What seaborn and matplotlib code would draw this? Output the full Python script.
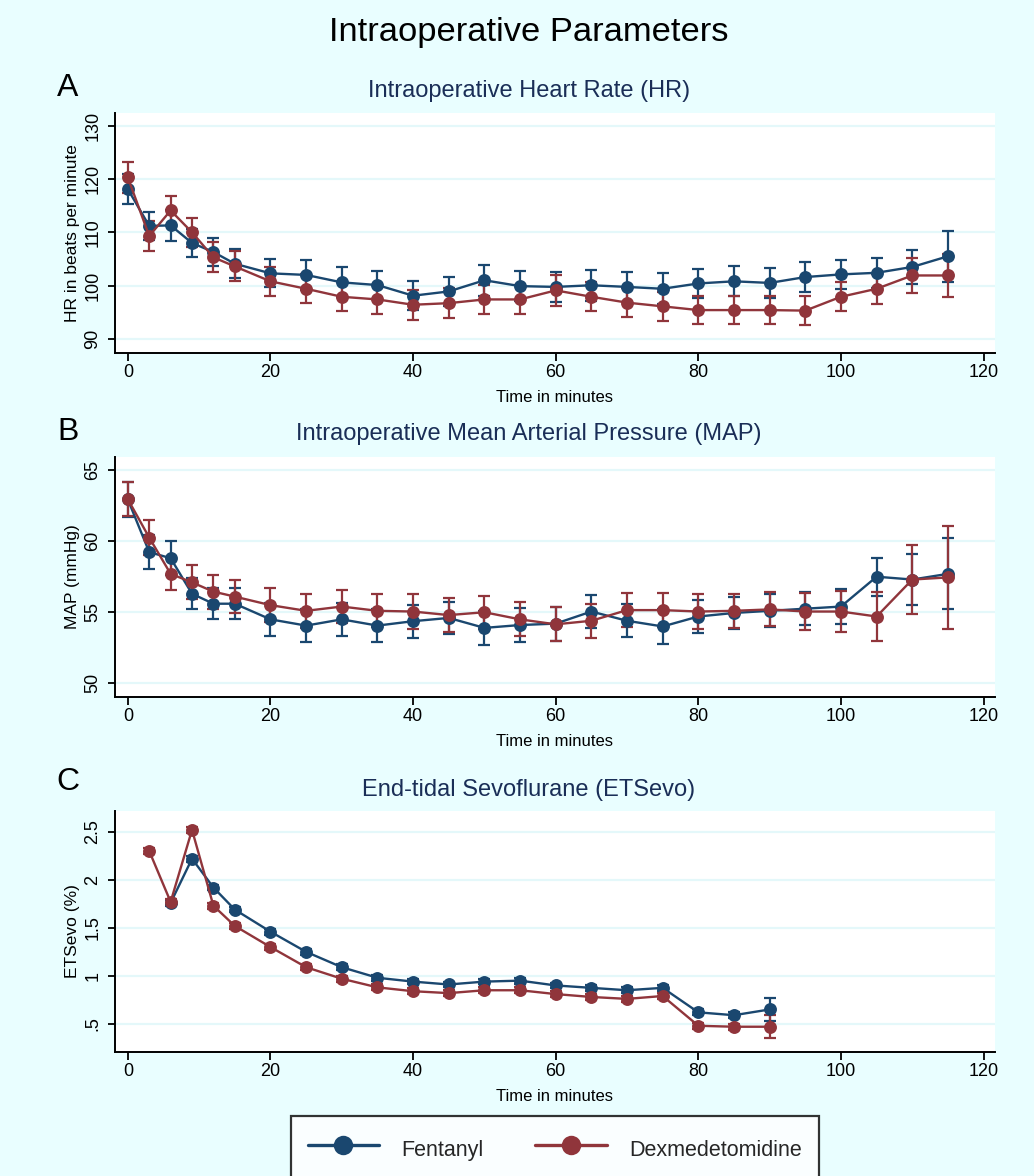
import numpy as np
import pandas as pd
import matplotlib
matplotlib.use("Agg")
import matplotlib.pyplot as plt
import seaborn as sns
from matplotlib.lines import Line2D

# ---------------- data ----------------
time = [0, 3, 6, 9, 12, 15, 20, 25, 30, 35, 40, 45, 50, 55, 60, 65, 70, 75, 80, 85, 90, 95, 100, 105, 110, 115]

hr_fen = [118.1, 111.2, 111.3, 108.0, 106.3, 104.1, 102.3, 102.0, 100.6, 100.1, 98.1, 98.9, 101.0, 99.9,
          99.75, 100.06, 99.75, 99.4, 100.4, 100.8, 100.5, 101.6, 102.1, 102.4, 103.5, 105.5]
hr_fen_err = [2.8, 2.7, 2.9, 2.7, 2.7, 2.7, 2.6, 2.75, 2.8, 2.7, 2.7, 2.7, 2.9, 2.8,
              2.75, 2.9, 2.75, 2.9, 2.75, 2.8, 2.8, 2.75, 2.75, 2.8, 3.2, 4.8]
hr_dex = [120.3, 109.3, 114.1, 110.0, 105.3, 103.6, 100.8, 99.4, 97.9, 97.4, 96.4, 96.7, 97.4, 97.4,
          99.1, 97.9, 96.8, 96.1, 95.4, 95.4, 95.4, 95.3, 97.9, 99.4, 101.9, 101.9]
hr_dex_err = [2.9, 2.8, 2.7, 2.75, 2.8, 2.8, 2.75, 2.75, 2.7, 2.8, 2.8, 2.8, 2.65, 2.8,
              2.9, 2.75, 2.75, 2.7, 2.7, 2.7, 2.7, 2.7, 2.75, 2.8, 3.3, 4.0]

map_fen = [62.93, 59.23, 58.8, 56.3, 55.6, 55.6, 54.5, 54.06, 54.5, 54.06, 54.37, 54.6, 53.9, 54.1,
           54.2, 55.05, 54.4, 54.0, 54.7, 54.95, 55.1, 55.25, 55.4, 57.5, 57.3, 57.7]
map_fen_err = [1.2, 1.17, 1.2, 1.1, 1.1, 1.1, 1.15, 1.15, 1.15, 1.15, 1.15, 1.15, 1.2, 1.2,
               1.2, 1.15, 1.15, 1.2, 1.15, 1.15, 1.15, 1.15, 1.2, 1.35, 1.8, 2.5]
map_dex = [62.95, 60.25, 57.7, 57.1, 56.45, 56.1, 55.5, 55.1, 55.4, 55.1, 55.05, 54.8, 55.0, 54.5,
           54.15, 54.4, 55.15, 55.15, 55.05, 55.1, 55.2, 55.05, 55.05, 54.7, 57.3, 57.45]
map_dex_err = [1.2, 1.25, 1.15, 1.2, 1.2, 1.15, 1.2, 1.2, 1.15, 1.15, 1.2, 1.2, 1.15, 1.2,
               1.2, 1.2, 1.2, 1.2, 1.2, 1.2, 1.2, 1.3, 1.45, 1.7, 2.4, 3.6]

et_time = [3, 6, 9, 12, 15, 20, 25, 30, 35, 40, 45, 50, 55, 60, 65, 70, 75, 80, 85, 90]
et_fen = [np.nan, 1.76, 2.22, 1.92, 1.69, 1.46, 1.25, 1.09, 0.98, 0.94, 0.91, 0.94, 0.95, 0.90,
          0.875, 0.85, 0.875, 0.62, 0.59, 0.65]
et_fen_err = [np.nan, 0.03, 0.03, 0.03, 0.03, 0.03, 0.03, 0.03, 0.03, 0.03, 0.03, 0.03, 0.03, 0.03,
              0.03, 0.03, 0.03, 0.03, 0.03, 0.12]
et_dex = [2.30, 1.77, 2.52, 1.73, 1.52, 1.30, 1.09, 0.97, 0.88, 0.84, 0.82, 0.85, 0.85, 0.81,
          0.78, 0.76, 0.79, 0.48, 0.47, 0.47]
et_dex_err = [0.03, 0.03, 0.03, 0.03, 0.03, 0.03, 0.03, 0.03, 0.03, 0.03, 0.03, 0.03, 0.03, 0.03,
              0.03, 0.03, 0.03, 0.03, 0.03, 0.12]

groups = ["Fentanyl", "Dexmedetomidine"]
x_ticks = [0, 20, 40, 60, 80, 100, 120]

# ---------------- style ----------------
sns.set_style("white")
plt.rcParams["font.family"] = ["Liberation Sans", "DejaVu Sans"]

BG = "#E9FEFF"
GRID = "#E4F8FA"
BLUE = "#1A476F"
RED = "#90353B"
NAVY_TXT = "#1A2E57"
palette = {"Fentanyl": BLUE, "Dexmedetomidine": RED}

W, H = 1034, 1176
fig = plt.figure(figsize=(W / 100, H / 100), dpi=100, facecolor=BG)


def rect(l, t, r, b):
    return [l / W, 1 - b / H, (r - l) / W, (b - t) / H]


panels = [
    dict(rect=rect(115, 113, 995, 352.7), t=time, fen=hr_fen, fe=hr_fen_err, dex=hr_dex, de=hr_dex_err,
         ylim=(87.4, 132.4), yticks=[90, 100, 110, 120, 130], ylabels=["90", "100", "110", "120", "130"],
         ylabel="HR in beats per minute", title="Intraoperative Heart Rate (HR)", letter="A",
         title_y=91, letter_y=88),
    dict(rect=rect(115, 456.7, 995, 696.7), t=time, fen=map_fen, fe=map_fen_err, dex=map_dex, de=map_dex_err,
         ylim=(49.06, 65.94), yticks=[50, 55, 60, 65], ylabels=["50", "55", "60", "65"],
         ylabel="MAP (mmHg)", title="Intraoperative Mean Arterial Pressure (MAP)", letter="B",
         title_y=434, letter_y=432),
    dict(rect=rect(115, 810.7, 995, 1051.7), t=et_time, fen=et_fen, fe=et_fen_err, dex=et_dex, de=et_dex_err,
         ylim=(0.21, 2.72), yticks=[0.5, 1, 1.5, 2, 2.5], ylabels=[".5", "1", "1.5", "2", "2.5"],
         ylabel="ETSevo (%)", title="End-tidal Sevoflurane (ETSevo)", letter="C",
         title_y=790, letter_y=782),
]

for p in panels:
    ax = fig.add_axes(p["rect"])
    ax.set_facecolor("white")
    df = pd.DataFrame({
        "time": list(p["t"]) * 2,
        "value": list(p["fen"]) + list(p["dex"]),
        "err": list(p["fe"]) + list(p["de"]),
        "group": [groups[0]] * len(p["t"]) + [groups[1]] * len(p["t"]),
    })
    for g in groups:
        sub = df[df["group"] == g].dropna()
        ax.errorbar(sub["time"], sub["value"], yerr=sub["err"], fmt="none", ecolor=palette[g],
                    elinewidth=1.6, capsize=4.3, capthick=1.6, zorder=3)
    sns.lineplot(data=df.dropna(), x="time", y="value", hue="group", hue_order=groups, palette=palette,
                 marker="o", markersize=9.3, markeredgewidth=0, linewidth=1.7, errorbar=None,
                 legend=False, ax=ax, zorder=4)
    ax.set_xlim(-1.8, 121.6)
    ax.set_ylim(*p["ylim"])
    ax.set_xticks(x_ticks)
    ax.set_xticklabels([str(v) for v in x_ticks])
    ax.set_yticks(p["yticks"])
    ax.set_yticklabels(p["ylabels"], rotation=90, va="center")
    ax.grid(axis="y", color=GRID, linewidth=1.6)
    ax.grid(axis="x", visible=False)
    ax.set_axisbelow(True)
    for s in ["top", "right"]:
        ax.spines[s].set_visible(False)
    for s in ["left", "bottom"]:
        ax.spines[s].set_color("black")
        ax.spines[s].set_linewidth(1.4)
    ax.tick_params(axis="both", which="major", direction="out", length=5.4, width=1.3,
                   color="black", labelsize=13, labelcolor="black", left=True, bottom=True)
    ax.tick_params(axis="x", pad=2.5)
    ax.tick_params(axis="y", pad=4.5)
    ax.set_xlabel("Time in minutes", fontsize=12, labelpad=7, color="black")
    ax.set_ylabel(p["ylabel"], fontsize=12.5, labelpad=3, color="black")
    fig.text(529 / W, 1 - p["title_y"] / H, p["title"], fontsize=17, color=NAVY_TXT,
             ha="center", va="center")
    fig.text(68 / W, 1 - p["letter_y"] / H, p["letter"], fontsize=23, color="black",
             ha="center", va="center")

fig.text(529 / W, 1 - 33 / H, "Intraoperative Parameters", fontsize=24.8, color="black",
         ha="center", va="center")

handles = [Line2D([0], [0], color=palette[g], linewidth=2.4, marker="o", markersize=14,
                  markeredgewidth=0) for g in groups]
leg = fig.legend(handles, groups, loc="upper left", bbox_to_anchor=(290.7 / W, 1 - 1115.7 / H),
                 ncol=2, frameon=True, fancybox=False, edgecolor="black", facecolor="white",
                 fontsize=15.5, handlelength=3.3, handletextpad=1.05, columnspacing=2.4,
                 borderpad=0.8, handleheight=2.0, borderaxespad=0)
leg.get_frame().set_linewidth(1.6)

fig.savefig("out.png", dpi=100, facecolor=BG)
